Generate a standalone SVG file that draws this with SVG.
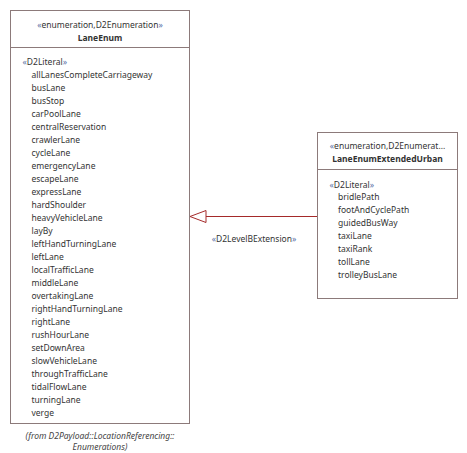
<svg xmlns="http://www.w3.org/2000/svg" width="467" height="453" viewBox="0 0 467 453">
<style>
.box{fill:#fff;stroke:#8c7a7a;stroke-width:1}
text{font-family:"Noto Sans","DejaVu Sans",sans-serif;font-size:8.5px;fill:#333}
.name{font-weight:bold}
.g{fill:#5a72a8}
.edge{stroke:#a52a2a;stroke-width:1;fill:none}
.foot{font-style:italic;fill:#444}
</style>
<rect width="467" height="453" fill="#fff"/>
<g id="LaneEnum">
<rect class="box" x="10.5" y="10.5" width="179" height="413"/>
<line class="box" x1="10.5" y1="47.5" x2="189.5" y2="47.5"/>
<text x="100" y="27.5" text-anchor="middle"><tspan class="g">«</tspan>enumeration,D2Enumeration<tspan class="g">»</tspan></text>
<text x="100" y="40.5" text-anchor="middle" class="name">LaneEnum</text>
<text x="22.5" y="64.5"><tspan class="g">«</tspan>D2Literal<tspan class="g">»</tspan></text>
<g transform="translate(31.5,0)">
<text y="77.5">allLanesCompleteCarriageway</text>
<text y="90.5">busLane</text>
<text y="103.5">busStop</text>
<text y="116.5">carPoolLane</text>
<text y="129.5">centralReservation</text>
<text y="142.5">crawlerLane</text>
<text y="155.5">cycleLane</text>
<text y="168.5">emergencyLane</text>
<text y="181.5">escapeLane</text>
<text y="194.5">expressLane</text>
<text y="207.5">hardShoulder</text>
<text y="220.5">heavyVehicleLane</text>
<text y="233.5">layBy</text>
<text y="246.5">leftHandTurningLane</text>
<text y="259.5">leftLane</text>
<text y="272.5">localTrafficLane</text>
<text y="285.5">middleLane</text>
<text y="298.5">overtakingLane</text>
<text y="311.5">rightHandTurningLane</text>
<text y="324.5">rightLane</text>
<text y="337.5">rushHourLane</text>
<text y="350.5">setDownArea</text>
<text y="363.5">slowVehicleLane</text>
<text y="376.5">throughTrafficLane</text>
<text y="389.5">tidalFlowLane</text>
<text y="402.5">turningLane</text>
<text y="415.5">verge</text>
</g>
<text x="100" y="438.5" text-anchor="middle" class="foot">(from D2Payload::LocationReferencing::</text>
<text x="100" y="450" text-anchor="middle" class="foot">Enumerations)</text>
</g>
<g id="LaneEnumExtendedUrban">
<rect class="box" x="317.5" y="132.5" width="140" height="166"/>
<line class="box" x1="317.5" y1="169.5" x2="457.5" y2="169.5"/>
<text x="387.5" y="148.5" text-anchor="middle"><tspan class="g">«</tspan>enumeration,D2Enumerat...</text>
<text x="387.5" y="161.5" text-anchor="middle" class="name">LaneEnumExtendedUrban</text>
<text x="329.5" y="187.5"><tspan class="g">«</tspan>D2Literal<tspan class="g">»</tspan></text>
<g transform="translate(338,0)">
<text y="200">bridlePath</text>
<text y="213">footAndCyclePath</text>
<text y="226">guidedBusWay</text>
<text y="239">taxiLane</text>
<text y="252">taxiRank</text>
<text y="265">tollLane</text>
<text y="278">trolleyBusLane</text>
</g>
</g>
<g id="connectors">
<line class="edge" x1="317" y1="216.5" x2="206" y2="216.5"/>
<polygon class="edge" points="190,216.5 206,210.5 206,222.5" style="fill:#fff"/>
<text x="254" y="242" text-anchor="middle"><tspan class="g">«</tspan>D2LevelBExtension<tspan class="g">»</tspan></text>
</g>
</svg>
